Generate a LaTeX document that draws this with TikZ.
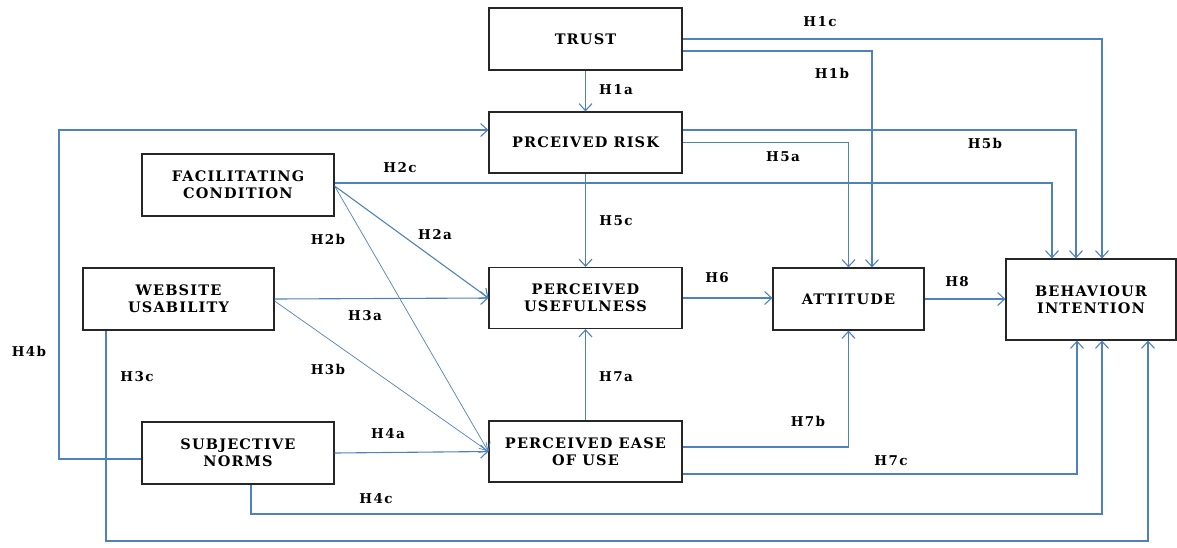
\documentclass[tikz,border=0pt]{standalone}
\usepackage{fontspec}
\setmainfont{DejaVu Serif}[LetterSpace=8]
\newfontfamily\labfont{DejaVu Serif}[LetterSpace=10]
\usetikzlibrary{arrows.meta,calc}
\definecolor{linkblue}{HTML}{4F81BD}
\tikzset{
 box/.style={draw=black!85, line width=1.2pt, fill=white, align=center, inner sep=0pt,
   font=\fontsize{14.5}{17}\selectfont\bfseries},
 link/.style={draw=linkblue, line width=1.1pt, -{Straight Barb[length=7pt,width=13pt]}},
 thinlink/.style={link, line width=0.7pt},
 lab/.style={font=\labfont\fontsize{13.5}{15}\selectfont\bfseries, inner sep=0pt},
}
\begin{document}
\begin{tikzpicture}[x=1pt,y=-1pt]
\useasboundingbox (0,0) rectangle (1177,547);
% boxes
\node[box, minimum width=193pt, minimum height=62pt] (trust) at (585.5,39) {TRUST};
\node[box, minimum width=193pt, minimum height=61pt] (risk) at (585.5,142.5) {PRCEIVED RISK};
\node[box, minimum width=192pt, minimum height=62pt] (fc) at (238,185) {FACILITATING\\CONDITION};
\node[box, minimum width=191pt, minimum height=62pt] (wu) at (178.5,299) {WEBSITE\\USABILITY};
\node[box, minimum width=193pt, minimum height=61pt] (pu) at (585.5,298) {PERCEIVED\\USEFULNESS};
\node[box, minimum width=151pt, minimum height=62pt] (att) at (848.5,299) {ATTITUDE};
\node[box, minimum width=170pt, minimum height=81pt] (bi) at (1091,299.5) {BEHAVIOUR\\INTENTION};
\node[box, minimum width=192pt, minimum height=62pt] (sn) at (238,453) {SUBJECTIVE\\NORMS};
\node[box, minimum width=193pt, minimum height=61pt] (peu) at (585.5,451.5) {PERCEIVED EASE\\OF USE};
% helper coordinates
\coordinate (h4bc) at (59,130);
\coordinate (h4cy) at (0,514);
\coordinate (h3cy) at (0,541);
% connectors
\draw[link] (trust) -- (risk);
\draw[link] (trust.east) -| ([xshift=11pt]bi.north);
\draw[link] ([yshift=-12pt]trust.east) -| ([xshift=23.5pt]att.north);
\draw[link] ([yshift=12.5pt]risk.east) -| ([xshift=-15pt]bi.north);
\draw[link] (risk.east) -| (att.north);
\draw[link] (risk) -- (pu);
\draw[link] ([yshift=2pt]fc.east) -| ([xshift=-39pt]bi.north);
\draw[link] ([yshift=-1pt]fc.east) -- (pu.west);
\draw[thinlink] ([yshift=-1pt]fc.east) -- (peu.west);
\draw[link] (wu.east) -- (pu.west);
\draw[thinlink] ([yshift=-2pt]wu.east) -- (peu.west);
\draw[link] ([xshift=-72.5pt]wu.south) -- ([xshift=-72.5pt]wu.south |- h3cy) -| ([xshift=57pt]bi.south);
\draw[link] ([yshift=-6pt]sn.west) -| (h4bc) -- ([yshift=12.5pt]risk.west);
\draw[link] (sn.east) -- (peu.west);
\draw[link] ([xshift=13pt]sn.south) -- ([xshift=13pt]sn.south |- h4cy) -| ([xshift=11pt]bi.south);
\draw[link] (peu) -- (pu);
\draw[link] ([yshift=4.5pt]peu.east) -| (att.south);
\draw[link] ([yshift=-22.5pt]peu.east) -| ([xshift=-14pt]bi.south);
\draw[link] (pu.east) -- (pu.east -| att.west);
\draw[link] (att.east) -- (att.east -| bi.west);
% labels
\node[lab] (l1a) at (616,90) {H1a};
\node[lab] (l1b) at (832,73) {H1b};
\node[lab] (l1c) at (820,22) {H1c};
\node[lab] (l2a) at (435,235) {H2a};
\node[lab] (l2b) at (328,239) {H2b};
\node[lab] (l2c) at (400,168) {H2c};
\node[lab] (l3a) at (365,316) {H3a};
\node[lab] (l3b) at (328,369) {H3b};
\node[lab] (l3c) at (137,377) {H3c};
\node[lab] (l4a) at (388,434) {H4a};
\node[lab] (l4b) at (29,351) {H4b};
\node[lab] (l4c) at (376,499) {H4c};
\node[lab] (l5a) at (783,157) {H5a};
\node[lab] (l5b) at (985,143) {H5b};
\node[lab] (l5c) at (616,221) {H5c};
\node[lab] (l6) at (717,278) {H6};
\node[lab] (l7a) at (616,377) {H7a};
\node[lab] (l7b) at (808,421) {H7b};
\node[lab] (l7c) at (891,461) {H7c};
\node[lab] (l8) at (957,282) {H8};
\end{tikzpicture}
\end{document}
